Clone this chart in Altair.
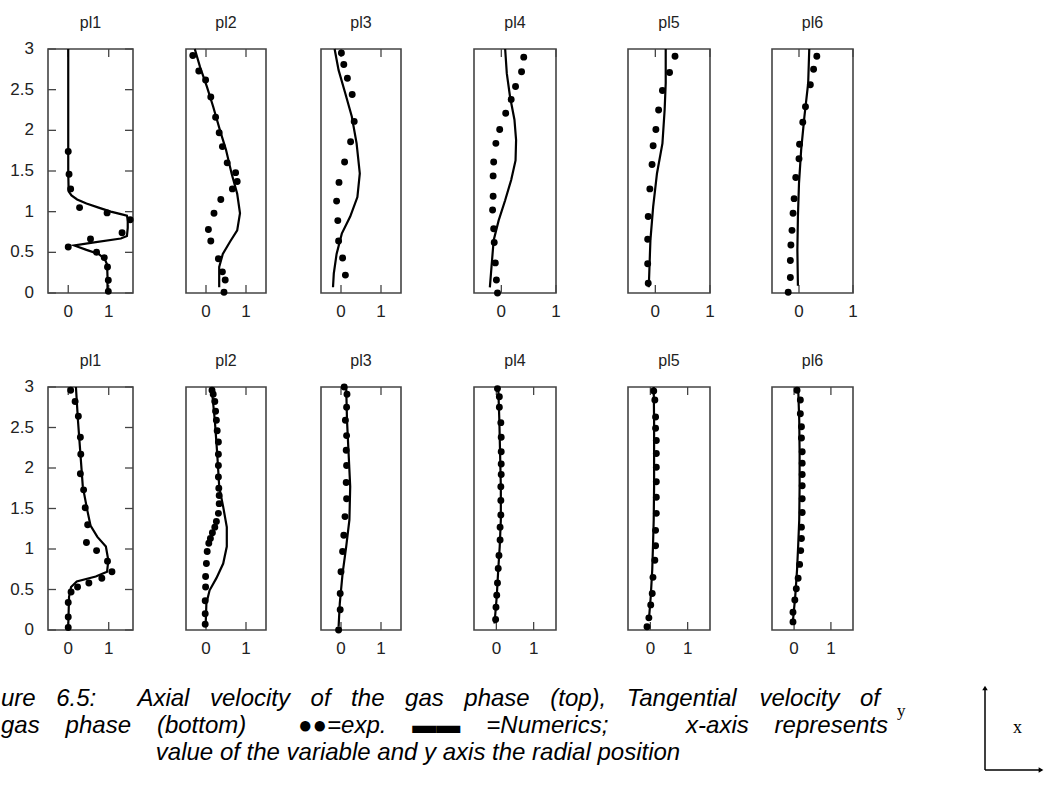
import re
import altair as alt
import pandas as pd

# ---------------- labels / ticks ----------------
TITLES = ["pl1", "pl2", "pl3", "pl4", "pl5", "pl6"]
X_TICKS = [0, 1]
X_TICK_LABELS = ["0", "1"]
Y_TICKS = [0, 0.5, 1, 1.5, 2, 2.5, 3]
Y_TICK_LABELS = ["0", "0.5", "1", "1.5", "2", "2.5", "3"]
Y_DOMAIN = [0, 3]
X_DOMAINS_TOP = [[-0.5, 1.6], [-0.5, 1.5], [-0.5, 1.5], [-0.5, 1.0], [-0.5, 1.0], [-0.5, 1.0]]
X_DOMAINS_BOTTOM = [[-0.5, 1.6], [-0.5, 1.5], [-0.5, 1.5], [-0.6, 1.6], [-0.6, 1.6], [-0.6, 1.6]]

CAPTION_1 = "ure 6.5:  Axial velocity of the gas phase (top), Tangential velocity of"
CAPTION_2 = "gas phase (bottom)  \u25cf\u25cf=exp. \u25ac\u25ac =Numerics;   x-axis represents"
CAPTION_3 = "value of the variable and y axis the radial position"
AXIS_Y_LABEL = "y"
AXIS_X_LABEL = "x"

# ---------------- top row: axial velocity ----------------
ax1_exp_x = [0.00, 0.02, 0.06, 0.28, 0.96, 1.53, 1.33, 0.55, 0.00, 0.70, 0.89, 0.97, 0.99, 0.99]
ax1_exp_y = [1.74, 1.46, 1.28, 1.05, 0.985, 0.90, 0.74, 0.665, 0.566, 0.50, 0.435, 0.32, 0.156, 0.02]
ax1_num_x = [0.0, 0.0, 0.0, 0.01, 0.08, 0.22, 0.45, 0.75, 1.05, 1.30, 1.45, 1.47, 1.47, 1.45, 1.30,
             0.60, 0.15, 0.45, 0.75, 0.90, 0.96, 0.97, 0.97]
ax1_num_y = [3.0, 2.0, 1.5, 1.25, 1.20, 1.15, 1.10, 1.05, 1.00, 0.97, 0.95, 0.90, 0.80, 0.70, 0.67,
             0.62, 0.585, 0.53, 0.48, 0.42, 0.35, 0.20, 0.05]

ax2_exp_x = [-0.33, -0.18, -0.01, 0.12, 0.24, 0.33, 0.41, 0.53, 0.74, 0.78, 0.66, 0.37, 0.20, 0.06,
             0.12, 0.31, 0.41, 0.48, 0.45]
ax2_exp_y = [2.92, 2.73, 2.62, 2.41, 2.16, 1.97, 1.80, 1.60, 1.48, 1.37, 1.28, 1.15, 0.98, 0.78,
             0.64, 0.42, 0.26, 0.16, 0.01]
ax2_num_x = [-0.28, -0.15, 0.02, 0.18, 0.35, 0.50, 0.64, 0.78, 0.85, 0.78, 0.60, 0.42, 0.33, 0.33]
ax2_num_y = [3.0, 2.78, 2.54, 2.29, 2.00, 1.76, 1.47, 1.22, 0.98, 0.77, 0.63, 0.48, 0.32, 0.07]

ax3_exp_x = [0.01, 0.07, 0.16, 0.28, 0.33, 0.24, 0.09, -0.05, -0.11, -0.08, -0.06, 0.04, 0.11]
ax3_exp_y = [2.95, 2.81, 2.64, 2.44, 2.11, 1.86, 1.61, 1.36, 1.13, 0.89, 0.64, 0.43, 0.22]
ax3_num_x = [-0.16, -0.06, 0.11, 0.27, 0.39, 0.47, 0.41, 0.23, 0.02, -0.11, -0.18, -0.20]
ax3_num_y = [3.0, 2.74, 2.45, 2.17, 1.84, 1.47, 1.18, 0.94, 0.73, 0.48, 0.24, 0.07]

ax4_exp_x = [0.41, 0.37, 0.26, 0.18, 0.08, -0.03, -0.10, -0.14, -0.15, -0.15, -0.16, -0.14, -0.13,
             -0.11, -0.09, -0.07]
ax4_exp_y = [2.90, 2.72, 2.54, 2.38, 2.21, 2.01, 1.84, 1.61, 1.44, 1.19, 1.02, 0.79, 0.62, 0.37,
             0.16, 0.00]
ax4_num_x = [0.07, 0.10, 0.16, 0.24, 0.27, 0.26, 0.18, 0.07, -0.05, -0.14, -0.18, -0.21]
ax4_num_y = [3.0, 2.70, 2.41, 2.13, 1.88, 1.63, 1.39, 1.14, 0.89, 0.65, 0.32, 0.07]

ax5_exp_x = [0.36, 0.26, 0.13, 0.06, 0.01, -0.04, -0.06, -0.10, -0.13, -0.14, -0.14, -0.13]
ax5_exp_y = [2.91, 2.71, 2.49, 2.25, 2.01, 1.81, 1.58, 1.28, 0.94, 0.66, 0.36, 0.12]
ax5_num_x = [0.19, 0.19, 0.17, 0.13, 0.03, -0.04, -0.09, -0.12]
ax5_num_y = [3.0, 2.58, 2.25, 1.84, 1.47, 1.06, 0.65, 0.07]

ax6_exp_x = [0.33, 0.27, 0.21, 0.12, 0.07, 0.01, 0.00, -0.06, -0.09, -0.11, -0.13, -0.15, -0.16,
             -0.16, -0.20]
ax6_exp_y = [2.91, 2.75, 2.56, 2.29, 2.10, 1.83, 1.65, 1.42, 1.16, 0.98, 0.77, 0.59, 0.40, 0.19,
             0.01]
ax6_num_x = [0.19, 0.17, 0.10, 0.04, 0.00, -0.02, -0.03, -0.02]
ax6_num_y = [3.0, 2.58, 2.17, 1.76, 1.35, 0.94, 0.53, 0.09]

# ---------------- bottom row: tangential velocity ----------------
tg1_exp_x = [0.06, 0.17, 0.25, 0.30, 0.31, 0.30, 0.38, 0.42, 0.48, 0.45, 0.70, 0.97, 1.08, 0.83,
             0.51, 0.23, 0.07, 0.00, 0.00, 0.00]
tg1_exp_y = [2.96, 2.82, 2.64, 2.38, 2.17, 1.93, 1.73, 1.51, 1.30, 1.08, 0.98, 0.85, 0.72, 0.64,
             0.58, 0.53, 0.47, 0.34, 0.16, 0.03]
tg1_num_x = [0.19, 0.24, 0.30, 0.36, 0.47, 0.55, 0.72, 0.93, 0.99, 0.96, 0.68, 0.21, 0.07, 0.02, 0.00]
tg1_num_y = [3.0, 2.59, 2.18, 1.77, 1.48, 1.29, 1.15, 1.03, 0.86, 0.72, 0.66, 0.60, 0.53, 0.41, 0.04]

tg2_exp_x = [0.15, 0.18, 0.22, 0.24, 0.26, 0.28, 0.31, 0.31, 0.31, 0.31, 0.32, 0.33, 0.33, 0.31,
             0.26, 0.22, 0.16, 0.11, 0.07, 0.03, 0.01, -0.01, -0.01, -0.02, -0.02, -0.02]
tg2_exp_y = [2.96, 2.91, 2.82, 2.70, 2.59, 2.46, 2.32, 2.17, 2.03, 1.89, 1.75, 1.66, 1.56, 1.44,
             1.34, 1.27, 1.20, 1.13, 1.07, 0.97, 0.82, 0.66, 0.53, 0.36, 0.20, 0.07]
tg2_num_x = [0.14, 0.22, 0.28, 0.33, 0.43, 0.52, 0.52, 0.43, 0.26, 0.09, 0.01, -0.01]
tg2_num_y = [3.0, 2.59, 2.18, 1.77, 1.52, 1.27, 1.03, 0.82, 0.64, 0.49, 0.33, 0.04]

tg3_exp_x = [0.08, 0.15, 0.14, 0.11, 0.14, 0.13, 0.14, 0.13, 0.14, 0.10, 0.07, 0.04, 0.00, -0.02,
             -0.02, -0.06]
tg3_exp_y = [3.0, 2.91, 2.75, 2.59, 2.40, 2.22, 2.03, 1.82, 1.62, 1.40, 1.17, 0.97, 0.72, 0.45,
             0.25, 0.00]
tg3_num_x = [0.13, 0.15, 0.19, 0.23, 0.21, 0.13, 0.04, -0.03, -0.06]
tg3_num_y = [3.0, 2.59, 2.18, 1.77, 1.36, 1.03, 0.70, 0.33, 0.04]

tg4_exp_x = [0.03, 0.08, 0.08, 0.12, 0.13, 0.13, 0.13, 0.13, 0.12, 0.12, 0.12, 0.10, 0.10, 0.07,
             0.05, 0.03, 0.01, -0.01, -0.02]
tg4_exp_y = [2.98, 2.88, 2.75, 2.56, 2.38, 2.20, 2.05, 1.92, 1.77, 1.60, 1.42, 1.27, 1.11, 0.92,
             0.76, 0.58, 0.43, 0.28, 0.13]
tg4_num_x = [0.05, 0.08, 0.10, 0.12, 0.12, 0.09, 0.05, 0.01, -0.05]
tg4_num_y = [3.0, 2.59, 2.18, 1.77, 1.36, 1.03, 0.74, 0.41, 0.08]

tg5_exp_x = [0.09, 0.12, 0.14, 0.14, 0.16, 0.16, 0.16, 0.16, 0.16, 0.16, 0.14, 0.14, 0.12, 0.07,
             0.05, 0.01, -0.04, -0.09]
tg5_exp_y = [2.95, 2.84, 2.63, 2.49, 2.34, 2.18, 2.01, 1.83, 1.64, 1.44, 1.23, 1.04, 0.86, 0.65,
             0.45, 0.31, 0.15, 0.04]
tg5_num_x = [0.09, 0.10, 0.10, 0.10, 0.09, 0.07, 0.05, 0.01, -0.04]
tg5_num_y = [3.0, 2.59, 2.18, 1.77, 1.36, 1.03, 0.74, 0.41, 0.12]

tg6_exp_x = [0.08, 0.17, 0.17, 0.20, 0.20, 0.22, 0.22, 0.22, 0.22, 0.22, 0.22, 0.20, 0.20, 0.18,
             0.15, 0.11, 0.06, 0.02, -0.03, -0.03]
tg6_exp_y = [2.96, 2.84, 2.67, 2.51, 2.37, 2.20, 2.06, 1.92, 1.78, 1.62, 1.45, 1.27, 1.13, 0.98,
             0.81, 0.64, 0.51, 0.37, 0.22, 0.10]
tg6_num_x = [0.11, 0.14, 0.15, 0.15, 0.14, 0.11, 0.08, 0.03, -0.03]
tg6_num_y = [3.0, 2.59, 2.18, 1.77, 1.36, 1.03, 0.74, 0.41, 0.12]

# ---------------- layout / style ----------------
BOX_LEFT = [48, 186, 321, 474, 628, 772]
BOX_RIGHT = [133, 266, 401, 556, 710, 853]
ROW_TOP = [49, 387]
ROW_BOTTOM = [293, 630]
TICK = 8
FONT = "Liberation Sans"
TEXT_COLOR = "#222222"
FRAME_COLOR = "#444444"
CAP_SIZE = 24
CAP_Y = [699, 726, 753]

ROWS = [
    [(ax1_exp_x, ax1_exp_y, ax1_num_x, ax1_num_y), (ax2_exp_x, ax2_exp_y, ax2_num_x, ax2_num_y),
     (ax3_exp_x, ax3_exp_y, ax3_num_x, ax3_num_y), (ax4_exp_x, ax4_exp_y, ax4_num_x, ax4_num_y),
     (ax5_exp_x, ax5_exp_y, ax5_num_x, ax5_num_y), (ax6_exp_x, ax6_exp_y, ax6_num_x, ax6_num_y)],
    [(tg1_exp_x, tg1_exp_y, tg1_num_x, tg1_num_y), (tg2_exp_x, tg2_exp_y, tg2_num_x, tg2_num_y),
     (tg3_exp_x, tg3_exp_y, tg3_num_x, tg3_num_y), (tg4_exp_x, tg4_exp_y, tg4_num_x, tg4_num_y),
     (tg5_exp_x, tg5_exp_y, tg5_num_x, tg5_num_y), (tg6_exp_x, tg6_exp_y, tg6_num_x, tg6_num_y)],
]
X_DOMAINS = [X_DOMAINS_TOP, X_DOMAINS_BOTTOM]


def panel(row, i, ex, ey, nx, ny):
    xd = X_DOMAINS[row][i]
    top, bot = ROW_TOP[row], ROW_BOTTOM[row]
    left, right = BOX_LEFT[i], BOX_RIGHT[i]
    xs = alt.Scale(domain=xd, range=[left, right], nice=False, zero=False)
    ys = alt.Scale(domain=Y_DOMAIN, range=[bot, top], nice=False, zero=False)

    def X(f):
        return alt.X(f, type="quantitative", scale=xs, axis=None)

    def Y(f):
        return alt.Y(f, type="quantitative", scale=ys, axis=None)

    frame_df = pd.DataFrame({"x0": [xd[0]], "x1": [xd[1]], "y0": [Y_DOMAIN[0]], "y1": [Y_DOMAIN[1]]})
    xt_df = pd.DataFrame({"v": X_TICKS, "lab": X_TICK_LABELS})
    exp_df = pd.DataFrame({"x": ex, "y": ey})
    num_df = pd.DataFrame({"x": nx, "y": ny, "i": list(range(len(nx)))})

    layers = []
    layers.append(alt.Chart(frame_df).mark_rect(fillOpacity=0, stroke=FRAME_COLOR, strokeWidth=1.6).encode(
        x=X("x0"), x2="x1", y=Y("y0"), y2="y1"))
    layers.append(alt.Chart(xt_df).mark_rule(color=FRAME_COLOR, strokeWidth=1.3).encode(
        x=X("v"), y=alt.value(bot), y2=alt.value(bot - TICK)))
    layers.append(alt.Chart(xt_df).mark_rule(color=FRAME_COLOR, strokeWidth=1.3).encode(
        x=X("v"), y=alt.value(top), y2=alt.value(top + TICK)))
    layers.append(alt.Chart(xt_df).mark_text(font=FONT, fontSize=17, color=TEXT_COLOR, baseline="middle").encode(
        x=X("v"), y=alt.value(bot + 19), text="lab:N"))
    layers.append(alt.Chart(pd.DataFrame({"t": [TITLES[i]]})).mark_text(
        font=FONT, fontSize=16, color=TEXT_COLOR, baseline="middle").encode(
        x=alt.value((left + right) / 2), y=alt.value(top - 26), text="t:N"))
    if i == 0:
        yt_df = pd.DataFrame({"v": Y_TICKS, "lab": Y_TICK_LABELS})
        layers.append(alt.Chart(yt_df).mark_rule(color=FRAME_COLOR, strokeWidth=1.3).encode(
            y=Y("v"), x=alt.value(left), x2=alt.value(left + TICK)))
        layers.append(alt.Chart(yt_df).mark_rule(color=FRAME_COLOR, strokeWidth=1.3).encode(
            y=Y("v"), x=alt.value(right), x2=alt.value(right - TICK)))
        layers.append(alt.Chart(yt_df).mark_text(
            font=FONT, fontSize=17, color=TEXT_COLOR, align="right", baseline="middle").encode(
            y=Y("v"), x=alt.value(left - 14), text="lab:N"))
    layers.append(alt.Chart(num_df).mark_line(color="black", strokeWidth=2.2).encode(
        x=X("x"), y=Y("y"), order=alt.Order("i:Q")))
    layers.append(alt.Chart(exp_df).mark_circle(size=48, color="black", opacity=1).encode(
        x=X("x"), y=Y("y")))
    return alt.layer(*layers)


panels = []
for r in range(2):
    for i in range(6):
        ex, ey, nx, ny = ROWS[r][i]
        panels.append(panel(r, i, ex, ey, nx, ny))

# ---- caption: justified lines (word placement from Arial advance widths) ----
ARIAL_W = {" ": 278, "(": 333, ")": 333, ",": 278, "-": 333, ".": 278, ":": 278, ";": 278, "=": 584,
           "5": 556, "6": 556, "A": 667, "N": 722, "T": 611, "a": 556, "b": 556, "c": 500, "d": 556,
           "e": 556, "f": 278, "g": 556, "h": 556, "i": 222, "l": 222, "m": 833, "n": 556, "o": 556,
           "p": 556, "r": 333, "s": 500, "t": 278, "u": 556, "v": 500, "x": 500, "y": 500,
           "\u25cf": 604, "\u25ac": 1000}


def text_w(s, size):
    return sum(ARIAL_W.get(c, 556) for c in s) * size / 1000.0


def justified(line, x0, x1, y, size):
    parts = re.split(r"( +)", line)
    natural = sum(text_w(p, size) for p in parts)
    n_sp = sum(len(p) for p in parts if p.startswith(" "))
    extra = max(0.0, (x1 - x0 - natural) / n_sp)
    xs, words, x = [], [], x0
    for p in parts:
        if p.startswith(" "):
            x += len(p) * (text_w(" ", size) + extra)
        elif p:
            xs.append(x)
            words.append(p)
            x += text_w(p, size)
    df = pd.DataFrame({"w": words, "px": xs})
    return alt.Chart(df).mark_text(font=FONT, fontSize=size, fontStyle="italic", color="black",
                                   align="left", baseline="middle").encode(
        x=alt.X("px:Q", scale=None), y=alt.value(y), text="w:N")


def text_layer(txt, x, y, size, align="left", style="italic", font=FONT):
    return alt.Chart(pd.DataFrame({"t": [txt]})).mark_text(
        font=font, fontSize=size, fontStyle=style, color="black", align=align, baseline="middle").encode(
        x=alt.value(x), y=alt.value(y), text="t:N")


dummy = pd.DataFrame({"a": [0]})
annot = [
    justified(CAPTION_1, 1, 880, CAP_Y[0], CAP_SIZE),
    justified(CAPTION_2, 1, 888, CAP_Y[1], CAP_SIZE),
    text_layer(CAPTION_3, 418, CAP_Y[2], CAP_SIZE, align="center"),
    text_layer(AXIS_Y_LABEL, 897, 711, 17, style="normal", font="Liberation Serif"),
    text_layer(AXIS_X_LABEL, 1013, 728, 18, style="normal", font="Liberation Serif"),
    alt.Chart(dummy).mark_rule(color="black", strokeWidth=1.5).encode(
        x=alt.value(985), y=alt.value(690), y2=alt.value(770)),
    alt.Chart(dummy).mark_rule(color="black", strokeWidth=1.5).encode(
        x=alt.value(985), x2=alt.value(1042), y=alt.value(770)),
    alt.Chart(dummy).mark_point(shape="triangle-up", filled=True, size=30, color="black", opacity=1).encode(
        x=alt.value(985), y=alt.value(688)),
    alt.Chart(dummy).mark_point(shape="triangle-right", filled=True, size=30, color="black", opacity=1).encode(
        x=alt.value(1041), y=alt.value(770)),
]

chart = alt.layer(*panels, *annot).resolve_scale(x="independent", y="independent").properties(
    width=1045, height=789, padding=0, autosize=alt.AutoSizeParams(type="none"),
    background="white",
).configure_view(strokeWidth=0)

chart.save("out.html", embed_options={"renderer": "svg", "actions": False})
